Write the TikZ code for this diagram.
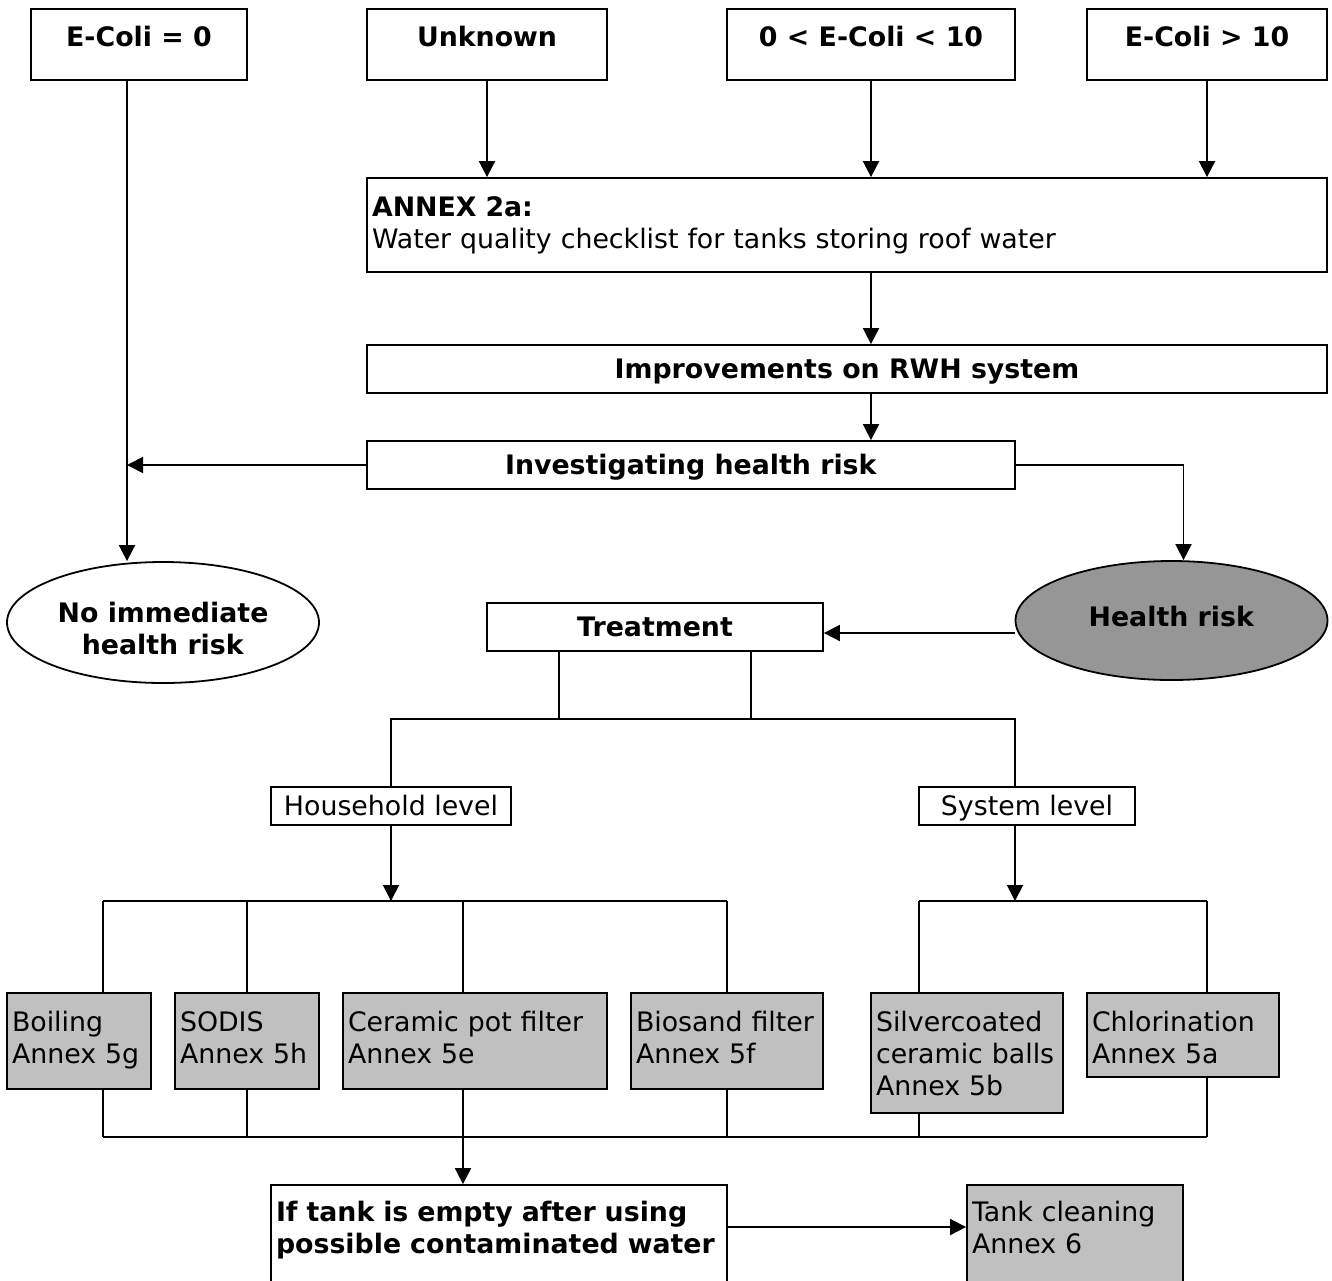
\documentclass[tikz,border=0pt]{standalone}
\usepackage{fontspec}
\setmainfont{DejaVu Sans}
\usetikzlibrary{shapes.geometric,arrows.meta,calc}
\definecolor{boxgray}{HTML}{C0C0C0}
\definecolor{riskgray}{HTML}{969696}
\newcommand{\fsz}{\fontsize{13.4pt}{16pt}\selectfont}
\newcommand{\lowend}{\rule[-8.8pt]{0pt}{8.8pt}}
\newcommand{\topgap}[1]{\rule{0pt}{#1}}
\begin{document}
\begin{tikzpicture}[x=0.5pt,y=-0.5pt,
 base/.style={draw=black, line width=0.9pt, inner sep=0pt, font=\fsz},
 wbox/.style={base, fill=white, align=center, text height=9.8pt, text depth=0pt},
 lbox/.style={base, fill=white, inner xsep=2.5pt, align=left},
 gbox/.style={base, fill=boxgray, inner xsep=2.5pt, align=left,
   execute at end node=\strut},
 oval/.style={base, ellipse, minimum width=156pt, align=center},
 ln/.style={line width=0.9pt},
 arr/.style={ln, -{Triangle[length=8pt,width=8pt]}},
]
\useasboundingbox (0,0) rectangle (1332,1280);

% top row
\node[wbox, minimum width=108pt, minimum height=35.5pt] (e0) at (139,44.5) {\raisebox{4pt}[\height][\depth]{\textbf{E-Coli = 0}}};
\node[wbox, minimum width=120pt, minimum height=35.5pt] (unk) at (487,44.5) {\raisebox{4pt}[\height][\depth]{\textbf{Unknown}}};
\node[wbox, minimum width=144pt, minimum height=35.5pt] (mid) at (871,44.5) {\raisebox{4pt}[\height][\depth]{\textbf{0 < E-Coli < 10}}};
\node[wbox, minimum width=120pt, minimum height=35.5pt] (high) at (1207,44.5) {\raisebox{4pt}[\height][\depth]{\textbf{E-Coli > 10}}};

\node[lbox, text width=475pt, minimum height=47pt] (annex) at (847,225) {\textbf{ANNEX 2a:}\\Water quality checklist for tanks storing roof water};
\node[wbox, minimum width=480pt, minimum height=24pt] (impr) at (847,369) {\textbf{Improvements on RWH system}};
\node[wbox, minimum width=324pt, minimum height=24pt] (inv) at (691,465) {\textbf{Investigating health risk}};

\node[oval, fill=white, minimum height=60.5pt] (noimm) at (163,622.5) {\raisebox{-5pt}[\height][\depth]{\begin{tabular}{@{}c@{}}\textbf{No immediate}\\\textbf{health risk}\end{tabular}}};
\node[oval, fill=riskgray, minimum height=59.5pt] (health) at (1171.5,620.5) {\raisebox{2pt}[\height][\depth]{\textbf{Health risk}}};

\node[wbox, minimum width=168pt, minimum height=24pt] (treat) at (655,627) {\textbf{Treatment}};
\node[wbox, minimum width=120pt, minimum height=19pt] (hh) at (391,806) {Household level};
\node[wbox, minimum width=108pt, minimum height=19pt] (sys) at (1027,806) {System level};

% treatment options
\node[gbox, text width=67pt, minimum height=48pt] (boil) at (79,1041) {\strut Boiling\\Annex 5g};
\node[gbox, text width=67pt, minimum height=48pt] (sodis) at (247,1041) {\strut SODIS\\Annex 5h};
\node[gbox, text width=127pt, minimum height=48pt] (cer) at (475,1041) {\strut Ceramic pot filter\\Annex 5e};
\node[gbox, text width=91pt, minimum height=48pt] (bio) at (727,1041) {\strut Biosand filter\\Annex 5f};
\node[gbox, text width=91pt, minimum height=60pt] (silv) at (967,1053) {\topgap{15.2pt}Silvercoated\\ceramic balls\\Annex 5b};
\node[gbox, text width=91pt, minimum height=42pt] (chl) at (1183,1035) {\topgap{17.2pt}Chlorination\\Annex 5a};

\node[lbox, text width=223pt, minimum height=50pt] (ifempty) at (499,1235) {\strut\textbf{If tank is empty after using}\\\textbf{possible contaminated water}\lowend};
\node[base, fill=boxgray, inner xsep=2.5pt, align=left, text width=103pt, minimum height=50pt] (tank) at (1075,1235) {\strut Tank cleaning\\Annex 6\lowend};

% connectors top part
\coordinate (eL) at ([xshift=-6pt]e0.south);
\draw[arr] (eL) -- (eL |- noimm.north);
\draw[arr] (inv.west) -- (inv.west -| eL);
\draw[arr] (unk.south) -- (unk.south |- annex.north);
\draw[arr] (mid.south) -- (mid.south |- annex.north);
\draw[arr] (high.south) -- (high.south |- annex.north);
\draw[arr] (mid.south |- annex.south) -- (mid.south |- impr.north);
\draw[arr] (mid.south |- impr.south) -- (mid.south |- inv.north);
\coordinate (hR) at ([xshift=6pt]health.north);
\draw[arr] (inv.east) -| (hR);
\coordinate (hW) at ([yshift=-6.25pt]health.west);
\draw[arr] (hW) -- (hW -| treat.east);

% treatment tree
\coordinate (tL) at ([xshift=-48pt]treat.south);
\coordinate (tR) at ([xshift=48pt]treat.south);
\coordinate (jy) at (0,719);
\draw[ln] (tL) -- (tL |- jy);
\draw[ln] (tR) -- (tR |- jy);
\coordinate (sN) at ([xshift=-6pt]sys.north);
\coordinate (sS) at ([xshift=-6pt]sys.south);
\draw[ln] (hh.north) -- (hh.north |- jy) -- (sN |- jy) -- (sN);
\coordinate (ya) at (0,901);
\coordinate (yb) at (0,1137);
\draw[arr] (hh.south) -- (hh.south |- ya);
\draw[arr] (sS) -- (sS |- ya);

\coordinate (xB) at ([xshift=12pt]boil.center);
\coordinate (xS) at (sodis.center);
\coordinate (xC) at ([xshift=-6pt]cer.center);
\coordinate (xBi) at (bio.center);
\coordinate (xSi) at ([xshift=-24pt]silv.center);
\coordinate (xCh) at ([xshift=12pt]chl.center);

\draw[ln] (xB |- ya) -- (xBi |- ya);
\draw[ln] (xSi |- ya) -- (xCh |- ya);
\foreach \c/\b in {xB/boil, xS/sodis, xC/cer, xBi/bio, xSi/silv, xCh/chl} {
  \draw[ln] (\c |- ya) -- (\c |- \b.north);
  \draw[ln] (\c |- \b.south) -- (\c |- yb);
}
\draw[ln] (xB |- yb) -- (xCh |- yb);
\draw[arr] (xC |- yb) -- (xC |- ifempty.north);
\coordinate (fE) at ([yshift=4pt]ifempty.east);
\draw[arr] (fE) -- (fE -| tank.west);
\end{tikzpicture}
\end{document}
